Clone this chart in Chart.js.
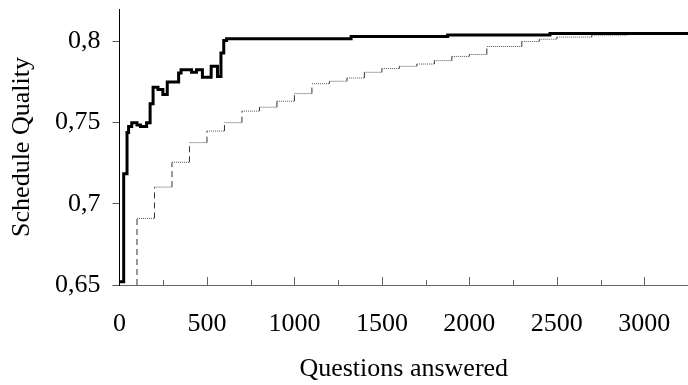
<!DOCTYPE html>
<html>
<head>
<meta charset="utf-8">
<script src="https://cdn.jsdelivr.net/npm/chart.js@4.4.1/dist/chart.umd.min.js"></script>
<style>
    body { margin: 0; background: #fff; }
    #wrap { width: 688px; height: 385px; position: relative; }
</style>
</head>
<body>
<div id="wrap"><canvas id="quality"></canvas></div>
<script>
// questions answered where the quality changes, and the quality from there on
var userX = [0, 24, 43, 52, 70, 100, 120, 155, 175, 192, 220, 248, 273, 338, 352, 412, 440, 474, 524, 560, 580, 596, 612, 1324, 1876, 2461, 3250];
var userY = [0.652, 0.7186, 0.744, 0.7476, 0.750, 0.7485, 0.7476, 0.750, 0.7616, 0.7718, 0.7704, 0.7673, 0.775, 0.7806, 0.7826, 0.781, 0.7826, 0.778, 0.7847, 0.7785, 0.7929, 0.8006, 0.8017, 0.803, 0.804, 0.8049, 0.8049];

// baseline run, one step per 100 questions
var baseX = [100, 200, 300, 400, 500, 600, 700, 800, 900, 1000, 1100, 1200, 1300, 1400, 1500, 1600, 1700, 1800, 1900, 2000, 2100, 2300, 2400, 2500, 2700];
var baseY = [0.691, 0.7103, 0.7256, 0.7377, 0.7448, 0.750, 0.7571, 0.7595, 0.7632, 0.7679, 0.774, 0.7755, 0.7775, 0.781, 0.7833, 0.7847, 0.7861, 0.7882, 0.7908, 0.792, 0.7969, 0.800, 0.8014, 0.8027, 0.8039];
var baseEnd = 2905;

var xTicks = [0, 500, 1000, 1500, 2000, 2500, 3000];
var yTicks = [0.65, 0.7, 0.75, 0.8];
var xMax = 3250;
var yMin = 0.65, yMax = 0.82;

var FONT = 'Liberation Serif, Times New Roman, serif';

function toPoints(xs, ys) {
    var pts = [];
    for (var i = 0; i < xs.length; i++) pts.push({x: xs[i], y: ys[i]});
    return pts;
}

// explicit corners so the risers and the flats can be styled apart
function stepCorners(xs, ys, floor, endX) {
    var pts = [{x: xs[0], y: floor}, {x: xs[0], y: ys[0]}];
    for (var i = 1; i < xs.length; i++) {
        pts.push({x: xs[i], y: ys[i - 1]});
        pts.push({x: xs[i], y: ys[i]});
    }
    pts.push({x: endX, y: ys[ys.length - 1]});
    return pts;
}

function isRiser(ctx) {
    return ctx.p0.parsed.x === ctx.p1.parsed.x;
}

function comma(v) {
    return String(Math.round(v * 100) / 100).replace('.', ',');
}

// small tick marks standing up from the x axis, longer ones at the labels
var innerTicks = {
    id: 'innerTicks',
    afterDraw: function (chart) {
        var xs = chart.scales.x;
        var ctx = chart.ctx;
        var base = chart.chartArea.bottom;
        ctx.save();
        ctx.strokeStyle = '#666';
        ctx.lineWidth = 1;
        ctx.beginPath();
        for (var v = 250; v < xs.max; v += 250) {
            var px = Math.round(xs.getPixelForValue(v)) + 0.5;
            var len = (v % 500 === 0) ? 8 : 5;
            ctx.moveTo(px, base);
            ctx.lineTo(px, base - len);
        }
        ctx.stroke();
        ctx.restore();
    }
};

var data = {
    datasets: [
        {
            label: 'baseline',
            data: stepCorners(baseX, baseY, yMin, baseEnd),
            borderColor: '#555',
            borderWidth: 1,
            pointRadius: 0,
            segment: {
                borderDash: function (ctx) { return isRiser(ctx) ? [6, 4] : [1, 1]; },
                borderColor: function (ctx) { return isRiser(ctx) ? '#333' : '#555'; }
            },
            order: 2
        },
        {
            label: 'quality',
            data: toPoints(userX, userY),
            stepped: true,
            borderColor: '#000',
            borderWidth: 3,
            pointRadius: 0,
            order: 1
        }
    ]
};

var options = {
    responsive: true,
    maintainAspectRatio: false,
    animation: false,
    layout: { padding: { top: 9, right: 0, left: 0, bottom: 0 } },
    plugins: {
        legend: { display: false },
        tooltip: { enabled: false }
    },
    scales: {
        x: {
            type: 'linear',
            min: 0,
            max: xMax,
            afterBuildTicks: function (scale) {
                scale.ticks = xTicks.map(function (v) { return {value: v}; });
            },
            afterFit: function (scale) {
                scale.height = 100;
                scale.paddingLeft = 0;
                scale.paddingRight = 0;
            },
            ticks: {
                autoSkip: false,
                maxRotation: 0,
                padding: 24,
                color: '#000',
                font: { family: FONT, size: 26 },
                callback: function (v) { return String(v); }
            },
            grid: { drawOnChartArea: false, drawTicks: false },
            border: { color: '#666', width: 1 },
            title: {
                display: true,
                text: 'Questions answered',
                color: '#000',
                font: { family: FONT, size: 26 },
                padding: { top: 0, bottom: 0 }
            }
        },
        y: {
            min: yMin,
            max: yMax,
            afterBuildTicks: function (scale) {
                scale.ticks = yTicks.map(function (v) { return {value: v}; });
            },
            afterFit: function (scale) {
                scale.width = 119.5;
                scale.paddingTop = 0;
                scale.paddingBottom = 0;
            },
            ticks: {
                padding: 12,
                color: '#000',
                font: { family: FONT, size: 26 },
                callback: function (v) { return comma(v); }
            },
            grid: { drawOnChartArea: false, drawTicks: true, tickLength: 7, color: '#555' },
            border: { color: '#000', width: 1 },
            title: {
                display: true,
                text: 'Schedule Quality',
                color: '#000',
                font: { family: FONT, size: 26 },
                padding: { top: 7, bottom: 0 }
            }
        }
    }
};

var ctx = document.getElementById('quality').getContext('2d');
var chart = new Chart(ctx, { type: 'line', data: data, options: options, plugins: [innerTicks] });
</script>
</body>
</html>
